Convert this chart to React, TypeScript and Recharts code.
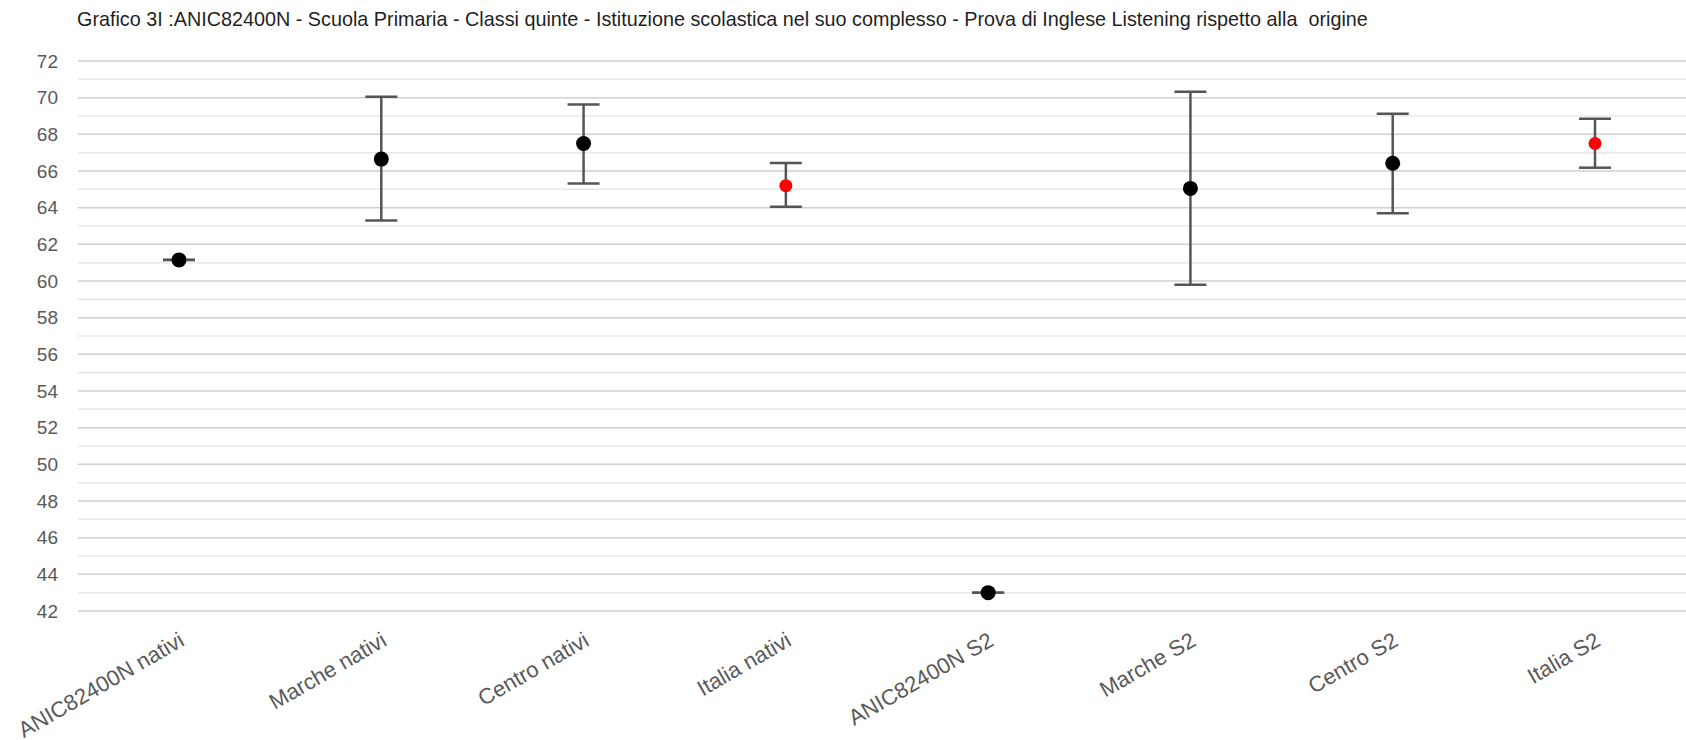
import React from 'react'
import { ComposedChart, Scatter, ErrorBar, XAxis, YAxis, CartesianGrid, Cell, ReferenceLine } from 'recharts'

const categories = [
  'ANIC82400N nativi',
  'Marche nativi',
  'Centro nativi',
  'Italia nativi',
  'ANIC82400N S2',
  'Marche S2',
  'Centro S2',
  'Italia S2',
]
const means = [61.15, 66.65, 67.5, 65.2, 43.0, 65.05, 66.42, 67.5]
const lower = [61.15, 63.3, 65.32, 64.05, 43.0, 59.8, 63.7, 66.18]
const upper = [61.15, 70.05, 69.63, 66.43, 43.0, 70.32, 69.12, 68.85]
const dotColors = ['#000000', '#000000', '#000000', '#ff0000', '#000000', '#000000', '#000000', '#ff0000']
const majorTicks = [42, 44, 46, 48, 50, 52, 54, 56, 58, 60, 62, 64, 66, 68, 70, 72]
const minorTicks = [43, 45, 47, 49, 51, 53, 55, 57, 59, 61, 63, 65, 67, 69, 71]

const title =
  'Grafico 3I :ANIC82400N - Scuola Primaria - Classi quinte - Istituzione scolastica nel suo complesso - Prova di Inglese Listening rispetto alla  origine'

const data = categories.map((name, i) => ({
  name,
  value: means[i],
  err: [means[i] - lower[i], upper[i] - means[i]],
  color: dotColors[i],
}))

const FONT = '"Liberation Sans", Arial, sans-serif'

const AngledTick = (props: any) => {
  const { x, y, payload } = props
  return (
    <g transform={`translate(${x},${y})`}>
      <text
        x={3}
        y={25}
        dy="0.35em"
        textAnchor="end"
        transform="rotate(-30, 3, 25)"
        fill="#595959"
        fontSize={22}
        fontFamily={FONT}
      >
        {payload.value}
      </text>
    </g>
  )
}

const Dot = (props: any) => {
  const { cx, cy, payload } = props
  const red = payload.color !== '#000000'
  return <circle cx={cx} cy={cy} r={red ? 6.5 : 7.5} fill={payload.color} />
}

export default function App() {
  return (
    <div
      style={{
        position: 'fixed',
        left: 0,
        top: 0,
        width: 1686,
        height: 740,
        overflow: 'hidden',
        background: '#fff',
      }}
    >
      <div
        style={{
          position: 'absolute',
          left: 77,
          top: 8,
          lineHeight: '22px',
          fontSize: 19.8,
          fontFamily: FONT,
          color: '#1f1f1f',
          whiteSpace: 'pre',
        }}
      >
        {title}
      </div>
      <ComposedChart width={1700} height={740} data={data} margin={{ top: 61, right: 4, bottom: 0, left: 0 }}>
        <CartesianGrid vertical={false} stroke="#cfcfcf" strokeWidth={1.5} />
        {minorTicks.map((v) => (
          <ReferenceLine key={v} y={v} stroke="#e8e8e8" strokeWidth={1.5} />
        ))}
        <XAxis
          dataKey="name"
          scale="point"
          padding={{ left: 101, right: 101 }}
          interval={0}
          axisLine={false}
          tickLine={false}
          tickSize={0}
          height={129}
          tick={<AngledTick />}
        />
        <YAxis
          type="number"
          domain={[42, 72]}
          ticks={majorTicks}
          width={78}
          axisLine={false}
          tickLine={false}
          tickSize={0}
          tickMargin={20}
          tick={{ fill: '#595959', fontSize: 19, fontFamily: FONT }}
        />
        <Scatter dataKey="value" isAnimationActive={false} shape={<Dot />}>
          {data.map((d, i) => (
            <Cell key={i} fill={d.color} />
          ))}
          <ErrorBar dataKey="err" direction="y" width={16} stroke="#555555" strokeWidth={2.5} />
        </Scatter>
      </ComposedChart>
    </div>
  )
}
